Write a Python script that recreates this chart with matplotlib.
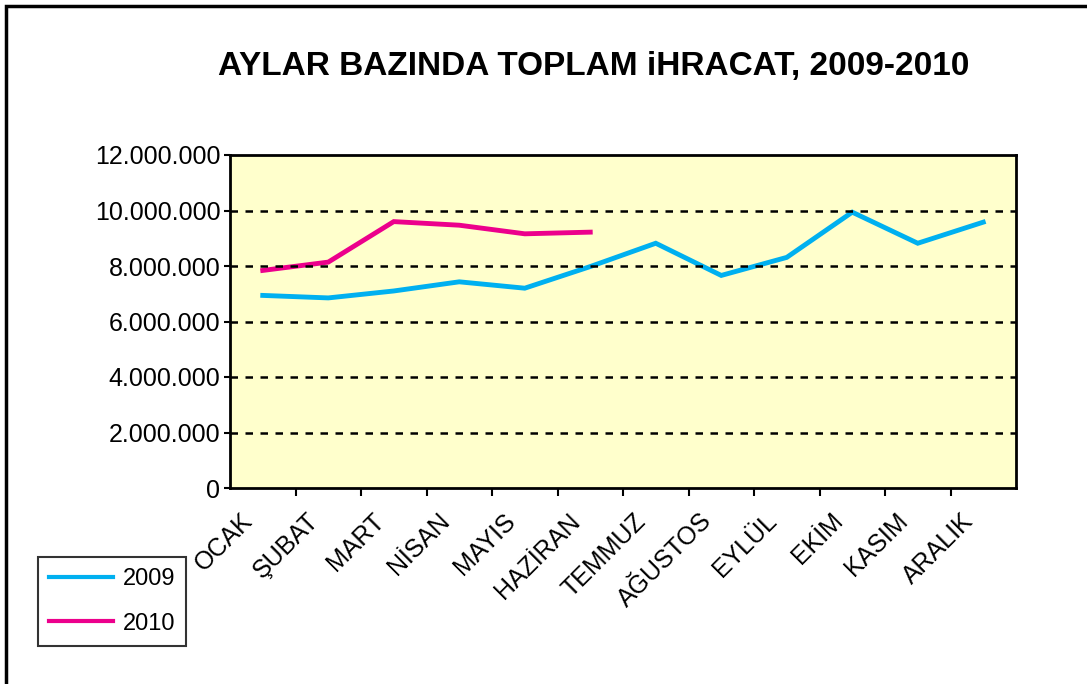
import matplotlib.pyplot as plt
import matplotlib.transforms as mtransforms
import numpy as np
from matplotlib.patches import Rectangle
from matplotlib.ticker import FuncFormatter, FixedLocator, NullFormatter

plt.rcParams['font.family'] = ['Liberation Sans', 'DejaVu Sans']

months = ["OCAK", "ŞUBAT", "MART", "NİSAN", "MAYIS", "HAZİRAN",
          "TEMMUZ", "AĞUSTOS", "EYLÜL", "EKİM", "KASIM", "ARALIK"]
exports_2009 = [6.94e6, 6.85e6, 7.10e6, 7.43e6, 7.20e6, 7.98e6,
                8.82e6, 7.66e6, 8.31e6, 9.94e6, 8.82e6, 9.58e6]
exports_2010 = [7.84e6, 8.14e6, 9.60e6, 9.47e6, 9.16e6, 9.22e6]

fig = plt.figure(figsize=(10.87, 6.84), dpi=100)
fig.patch.set_facecolor("white")

# outer frame (only top and left edges visible in the original)
fig.patches.append(Rectangle((6 / 1087, -0.1), 1.2, 1 - 6 / 684 + 0.1,
                             transform=fig.transFigure, fill=False,
                             edgecolor="black", linewidth=2.5))

ax = fig.add_axes([230 / 1087, 1 - 488 / 684, 786 / 1087, 333 / 684])
ax.set_facecolor("#FFFFCC")

x = np.arange(len(months))
ax.plot(x, exports_2009, color="#00B0F0", linewidth=3.5, label="2009",
        solid_joinstyle="miter")
ax.plot(x[:len(exports_2010)], exports_2010, color="#EC008C", linewidth=3.5,
        label="2010", solid_joinstyle="miter")

ax.set_xlim(-0.5, len(months) - 0.5)
ax.set_ylim(0, 12e6)

ax.yaxis.set_major_locator(FixedLocator(np.arange(0, 12.1e6, 2e6)))
ax.yaxis.set_major_formatter(FuncFormatter(lambda v, p: f"{int(v):,}".replace(",", ".")))
ax.tick_params(axis="y", length=4, width=1.5, labelsize=18, pad=3)
for yv in np.arange(2e6, 11e6, 2e6):
    ax.axhline(yv, color="black", linestyle=(0, (3, 3)), linewidth=1.8)

# tick marks at category boundaries, labels at centres
ax.xaxis.set_major_locator(FixedLocator(np.arange(0.5, len(months) - 0.5, 1)))
ax.xaxis.set_major_formatter(NullFormatter())
ax.tick_params(axis="x", length=6, width=1.5)
ax.set_xticks(x, minor=True)
ax.set_xticklabels(months, minor=True, rotation=45, ha="right", va="top",
                   rotation_mode="anchor", fontsize=18)
ax.tick_params(axis="x", which="minor", length=0, pad=15)
shift = mtransforms.ScaledTranslation(-22 / 100, 0, fig.dpi_scale_trans)
for lbl in ax.get_xticklabels(minor=True):
    lbl.set_transform(lbl.get_transform() + shift)

for s in ax.spines.values():
    s.set_linewidth(2)

fig.text(594 / 1087, 1 - 67 / 684, "AYLAR BAZINDA TOPLAM iHRACAT, 2009-2010",
         ha="center", va="center", fontsize=24, fontweight="bold")

leg = fig.legend(loc="lower left", bbox_to_anchor=(38 / 1087, 1 - 646 / 684),
                 frameon=True, fancybox=False, fontsize=17, handlelength=2.7,
                 borderpad=0.48, labelspacing=0.95, handletextpad=0.4,
                 borderaxespad=0)
leg.get_frame().set_edgecolor("black")
leg.get_frame().set_linewidth(1.5)
for line in leg.get_lines():
    line.set_linewidth(3)

fig.savefig("out.png", dpi=100)
